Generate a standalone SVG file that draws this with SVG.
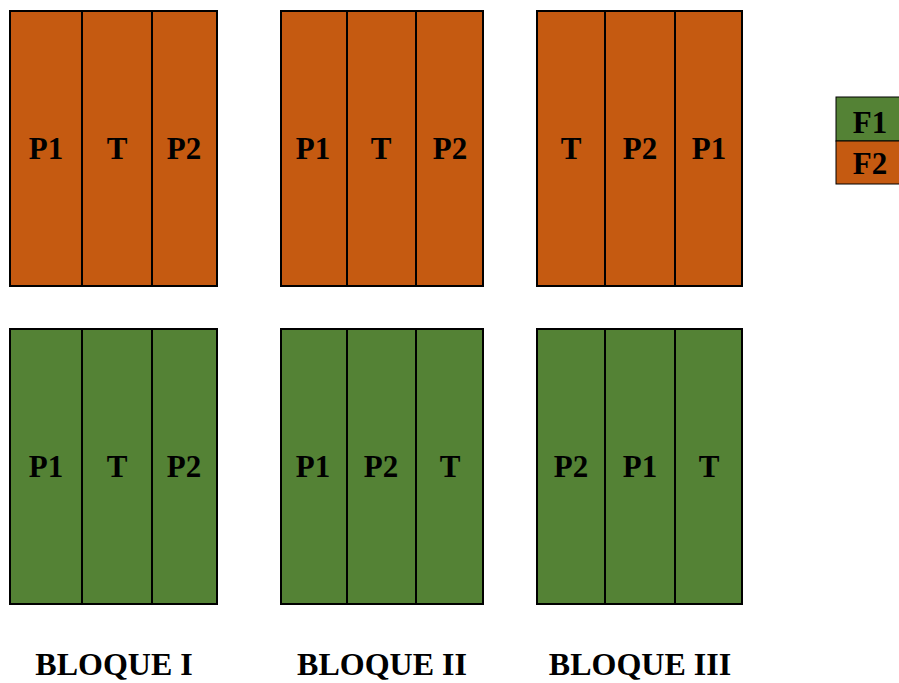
<svg xmlns="http://www.w3.org/2000/svg" width="899" height="683" viewBox="0 0 899 683">
<style>
.o{fill:#C55A11;stroke:#000;stroke-width:2}
.g{fill:#548235;stroke:#000;stroke-width:2}
.l{fill:none;stroke:#000;stroke-width:2}
text{font-family:"Liberation Serif",serif;font-weight:bold;font-size:31px;fill:#000;text-anchor:middle}
.b{font-size:32px}
</style>
<rect width="899" height="683" fill="#fff"/>
<g id="b1-f2">
<rect class="o" x="10" y="11" width="207" height="275"/>
<line class="l" x1="82" y1="11" x2="82" y2="286"/>
<line class="l" x1="152" y1="11" x2="152" y2="286"/>
<text x="46" y="159">P1</text><text x="117" y="159">T</text><text x="184" y="159">P2</text>
</g>
<g id="b2-f2">
<rect class="o" x="281" y="11" width="202" height="275"/>
<line class="l" x1="347" y1="11" x2="347" y2="286"/>
<line class="l" x1="416" y1="11" x2="416" y2="286"/>
<text x="313" y="159">P1</text><text x="381" y="159">T</text><text x="450" y="159">P2</text>
</g>
<g id="b3-f2">
<rect class="o" x="537" y="11" width="205" height="275"/>
<line class="l" x1="605" y1="11" x2="605" y2="286"/>
<line class="l" x1="675" y1="11" x2="675" y2="286"/>
<text x="571" y="159">T</text><text x="640" y="159">P2</text><text x="709" y="159">P1</text>
</g>
<g id="b1-f1">
<rect class="g" x="10" y="329" width="207" height="275"/>
<line class="l" x1="82" y1="329" x2="82" y2="604"/>
<line class="l" x1="152" y1="329" x2="152" y2="604"/>
<text x="46" y="477">P1</text><text x="117" y="477">T</text><text x="184" y="477">P2</text>
</g>
<g id="b2-f1">
<rect class="g" x="281" y="329" width="202" height="275"/>
<line class="l" x1="347" y1="329" x2="347" y2="604"/>
<line class="l" x1="416" y1="329" x2="416" y2="604"/>
<text x="313" y="477">P1</text><text x="381" y="477">P2</text><text x="450" y="477">T</text>
</g>
<g id="b3-f1">
<rect class="g" x="537" y="329" width="205" height="275"/>
<line class="l" x1="605" y1="329" x2="605" y2="604"/>
<line class="l" x1="675" y1="329" x2="675" y2="604"/>
<text x="571" y="477">P2</text><text x="640" y="477">P1</text><text x="709" y="477">T</text>
</g>
<g id="legend">
<rect x="836" y="97" width="70" height="44" fill="#548235" stroke="#000" stroke-width="1"/>
<rect x="836" y="141" width="70" height="43" fill="#C55A11" stroke="#000" stroke-width="1"/>
<text x="870" y="133">F1</text>
<text x="870" y="174">F2</text>
</g>
<g id="labels">
<text class="b" x="114" y="675">BLOQUE I</text>
<text class="b" x="382" y="675">BLOQUE II</text>
<text class="b" x="640" y="675">BLOQUE III</text>
</g>
</svg>
